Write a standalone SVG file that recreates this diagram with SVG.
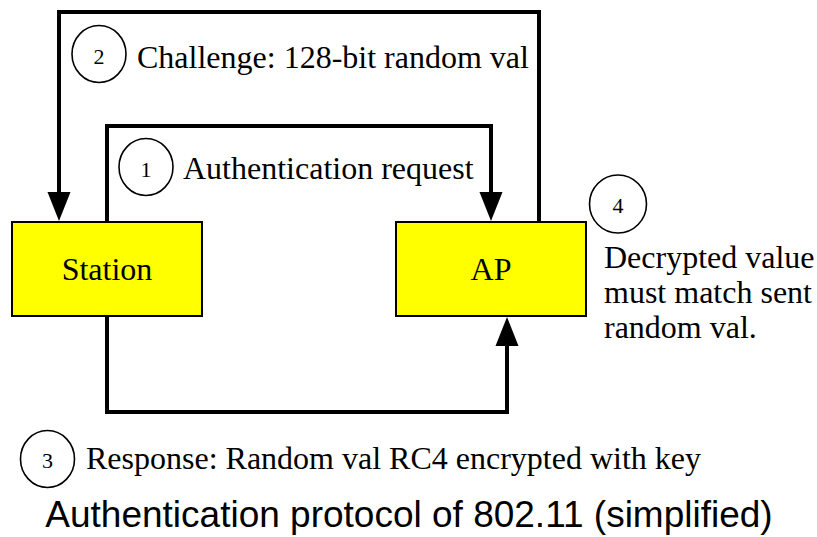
<svg xmlns="http://www.w3.org/2000/svg" width="817" height="537" viewBox="0 0 817 537">
  <style>
    .box { fill: #ffff00; stroke: #000; stroke-width: 2; }
    .wire { fill: none; stroke: #000; stroke-width: 4; stroke-linejoin: miter; }
    .step { fill: #fff; stroke: #000; stroke-width: 1.6; }
    .lbl { font-family: "Liberation Serif", "Times New Roman", serif; font-size: 32px; fill: #000; }
    .num { font-family: "Liberation Serif", "Times New Roman", serif; font-size: 22px; fill: #000; text-anchor: middle; }
    .title { font-family: "Liberation Sans", Arial, sans-serif; font-size: 37px; fill: #000; text-anchor: middle; }
  </style>
  <defs>
    <marker id="head" markerUnits="userSpaceOnUse" markerWidth="30" markerHeight="24" refX="1" refY="11.5" orient="auto" overflow="visible">
      <path d="M0,0 L29,11.5 L0,23 Z" fill="#000"/>
    </marker>
  </defs>
  <rect width="817" height="537" fill="#fff"/>

  <!-- message flows between station and access point -->
  <g id="connectors">
    <!-- 1: authentication request -->
    <path class="wire" d="M107,222 V126 H491 V193" marker-end="url(#head)"/>
    <!-- 2: challenge -->
    <path class="wire" d="M539,222 V12 H59 V193" marker-end="url(#head)"/>
    <!-- 3: response -->
    <path class="wire" d="M107,316 V412 H507 V345" marker-end="url(#head)"/>
  </g>

  <g id="station">
    <rect class="box" x="12" y="222" width="190" height="94"/>
    <text class="lbl" x="107" y="280" text-anchor="middle">Station</text>
  </g>

  <g id="ap">
    <rect class="box" x="396" y="222" width="190" height="94"/>
    <text class="lbl" x="491" y="280" text-anchor="middle">AP</text>
  </g>

  <g id="step1">
    <ellipse class="step" cx="146" cy="167" rx="27" ry="28.5"/>
    <text class="num" x="146" y="177">1</text>
    <text class="lbl" x="183" y="179">Authentication request</text>
  </g>

  <g id="step2">
    <ellipse class="step" cx="99" cy="54" rx="27" ry="28.5"/>
    <text class="num" x="99" y="64">2</text>
    <text class="lbl" x="137" y="68">Challenge: 128-bit random val</text>
  </g>

  <g id="step3">
    <ellipse class="step" cx="47.5" cy="459" rx="27" ry="28.5"/>
    <text class="num" x="47.5" y="468">3</text>
    <text class="lbl" x="86" y="469">Response: Random val RC4 encrypted with key</text>
  </g>

  <g id="step4">
    <ellipse class="step" cx="618" cy="204" rx="28.5" ry="29"/>
    <text class="num" x="618" y="213">4</text>
    <text class="lbl" x="604" y="268">Decrypted value</text>
    <text class="lbl" x="604" y="303">must match sent</text>
    <text class="lbl" x="604" y="338">random val.</text>
  </g>

  <text class="title" x="409" y="527">Authentication protocol of 802.11 (simplified)</text>
</svg>
